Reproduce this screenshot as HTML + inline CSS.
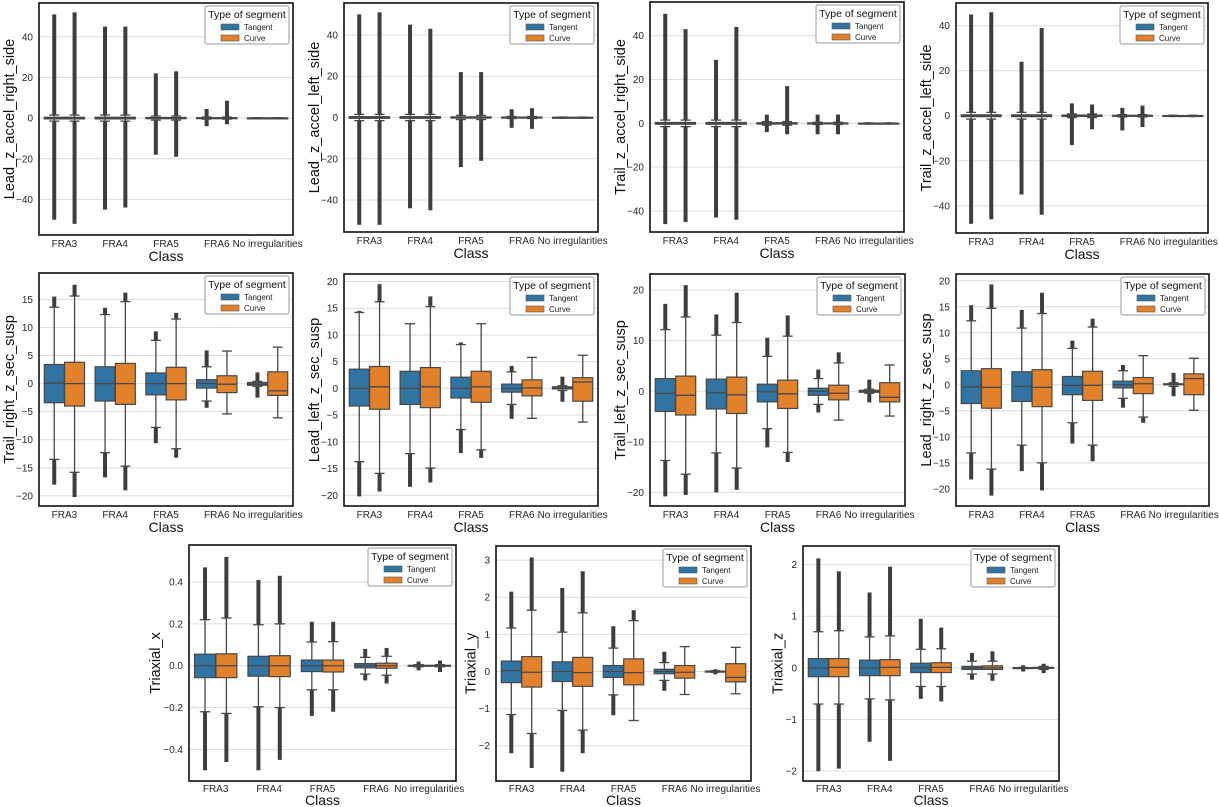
<!DOCTYPE html>
<html><head><meta charset="utf-8">
<style>
html,body{margin:0;padding:0;background:#fff;}
svg{display:block;font-family:"Liberation Sans",Arial,sans-serif;}
</style></head>
<body>
<svg id="fig" width="1219" height="807" viewBox="0 0 1219 807" xmlns="http://www.w3.org/2000/svg"></svg>
<script>
const classes = ["FRA3","FRA4","FRA5","FRA6","No irregularities"];
const hues = ["Tangent","Curve"];
// each entry: [whiskerLow, q1, median, q3, whiskerHigh, flierMin, flierMax]
const p1Tangent = [[-1.5,-0.4,0,0.4,1.5,-50,51],[-1.5,-0.4,0,0.4,1.5,-45,45],[-1,-0.3,0,0.3,1,-18,22],[-0.5,-0.2,0,0.2,0.5,-4,4.5],[-0.2,-0.1,0,0.1,0.2,-0.6,0.5]];
const p1Curve   = [[-1.5,-0.4,0,0.4,1.5,-52,52],[-1.5,-0.4,0,0.4,1.5,-44,45],[-1,-0.3,0,0.3,1,-19,23],[-0.5,-0.2,0,0.2,0.5,-3,8.5],[-0.2,-0.1,0,0.1,0.2,-0.6,0.5]];
const p2Tangent = [[-1.5,-0.4,0,0.4,1.5,-52,50],[-1.5,-0.4,0,0.4,1.5,-44,45],[-1,-0.3,0,0.3,1,-24,22],[-0.5,-0.2,0,0.2,0.5,-5,4],[-0.2,-0.1,0,0.1,0.2,-0.6,0.5]];
const p2Curve   = [[-1.5,-0.4,0,0.4,1.5,-52,51],[-1.5,-0.4,0,0.4,1.5,-45,43],[-1,-0.3,0,0.3,1,-21,22],[-0.5,-0.2,0,0.2,0.5,-5.5,4.5],[-0.2,-0.1,0,0.1,0.2,-0.6,0.5]];
const p3Tangent = [[-1.5,-0.4,0,0.4,1.5,-46,50],[-1.5,-0.4,0,0.4,1.5,-43,29],[-0.8,-0.3,0,0.3,0.8,-4,4],[-0.5,-0.2,0,0.2,0.5,-5,4],[-0.2,-0.1,0,0.1,0.2,-0.6,0.5]];
const p3Curve   = [[-1.5,-0.4,0,0.4,1.5,-45,43],[-1.5,-0.4,0,0.4,1.5,-44,44],[-0.8,-0.3,0,0.3,0.8,-5,17],[-0.5,-0.2,0,0.2,0.5,-5,4],[-0.2,-0.1,0,0.1,0.2,-0.6,0.5]];
const p4Tangent = [[-1.5,-0.4,0,0.4,1.5,-48,45],[-1.5,-0.4,0,0.4,1.5,-35,24],[-0.8,-0.3,0,0.3,0.8,-13,5.5],[-0.5,-0.2,0,0.2,0.5,-6.5,3.5],[-0.2,-0.1,0,0.1,0.2,-0.6,0.5]];
const p4Curve   = [[-1.5,-0.4,0,0.4,1.5,-46,46],[-1.5,-0.4,0,0.4,1.5,-44,39],[-0.8,-0.3,0,0.3,0.8,-6,5],[-0.5,-0.2,0,0.2,0.5,-5,4.5],[-0.2,-0.1,0,0.1,0.2,-0.6,0.5]];
const p5Tangent = [[-13.5,-3.4,0.1,3.4,13.6,-18,15.5],[-12.3,-3.1,0,3.0,12.3,-16.7,13.5],[-7.8,-2,0,1.9,7.7,-10.6,9.3],[-3.1,-0.8,0,0.7,3.0,-4.3,5.9],[-0.5,-0.3,-0.1,0.2,0.4,-2.5,2.0]];
const p5Curve   = [[-15.8,-4,0,3.8,15.6,-20.2,17.6],[-14.7,-3.7,0,3.6,14.6,-19,16.2],[-11.6,-2.9,0,2.9,11.5,-13.2,12.6],[-5.4,-1.6,-0.1,1.4,5.8,-5.4,5.8],[-6.1,-2.1,-1.3,2.1,6.5,-6.1,6.5]];
const p6Tangent = [[-13.7,-3.3,0,3.6,14.2,-20.2,14.5],[-12.2,-3.0,0,3.2,12.1,-18.4,12.1],[-7.7,-1.8,0,2.1,8.2,-12.1,8.6],[-3.0,-0.7,0,0.8,3.1,-5.7,4.2],[-0.4,-0.1,0.1,0.3,0.5,-2.5,2.2]];
const p6Curve   = [[-15.9,-3.9,0.3,4.1,16.2,-19.3,19.5],[-14.9,-3.6,0.3,3.9,15.3,-17.6,17.2],[-11.5,-2.6,0.3,3.2,12.1,-13.0,12.1],[-5.6,-1.4,0.1,1.6,5.8,-5.6,5.8],[-6.3,-2.4,1.2,2.0,6.2,-6.3,6.2]];
const p7Tangent = [[-13.7,-4.0,-0.4,2.5,12.2,-20.8,17.3],[-12.2,-3.5,-0.3,2.4,11.1,-20,15.2],[-7.4,-2.1,-0.1,1.4,6.9,-11.1,10.6],[-2.6,-0.8,0,0.6,2.5,-4.2,4.3],[-0.4,-0.2,0,0.2,0.4,-2.2,2.3]];
const p7Curve   = [[-16.4,-4.7,-0.8,3.0,14.7,-20.5,21],[-15.2,-4.4,-0.7,2.8,13.6,-19.5,19.5],[-12.1,-3.4,-0.5,2.2,10.9,-14,15],[-5.7,-1.7,-0.4,1.2,5.6,-5.7,7.7],[-4.9,-2.1,-1.2,1.7,5.2,-4.9,5.2]];
const p8Tangent = [[-13.1,-3.6,-0.4,2.7,12.3,-18.2,15.3],[-11.6,-3.2,-0.3,2.5,10.9,-16.6,14.4],[-7.3,-1.9,-0.1,1.6,7.0,-11.3,8.5],[-2.6,-0.6,0,0.7,2.7,-4.4,3.8],[-0.3,0,0.1,0.2,0.4,-2.2,2.3]];
const p8Curve   = [[-16.2,-4.5,-0.5,3.1,14.7,-21.3,19.3],[-15,-4.2,-0.5,2.9,13.7,-20.3,17.7],[-11.6,-3.0,-0.1,2.6,11.1,-14.7,12.7],[-6.2,-1.7,0.2,1.4,5.6,-7.3,5.6],[-4.9,-1.9,1.2,2.1,5.1,-4.9,5.1]];
const p9Tangent = [[-0.22,-0.057,0,0.055,0.22,-0.50,0.47],[-0.196,-0.05,0,0.045,0.196,-0.50,0.41],[-0.115,-0.028,0,0.027,0.113,-0.24,0.21],[-0.04,-0.01,0,0.01,0.04,-0.07,0.08],[-0.005,-0.002,0,0.002,0.005,-0.022,0.02]];
const p9Curve   = [[-0.228,-0.057,0,0.057,0.228,-0.46,0.52],[-0.2,-0.052,0,0.048,0.2,-0.45,0.43],[-0.115,-0.03,0,0.027,0.115,-0.22,0.21],[-0.045,-0.012,0,0.012,0.045,-0.085,0.085],[-0.005,-0.002,0,0.002,0.005,-0.03,0.025]];
const p10Tangent = [[-1.16,-0.3,0.02,0.28,1.17,-2.2,2.15],[-1.05,-0.27,0,0.26,1.06,-2.7,2.25],[-0.63,-0.16,0,0.16,0.63,-1.18,1.22],[-0.24,-0.06,0,0.06,0.24,-0.52,0.53],[-0.02,-0.01,0,0.01,0.02,-0.08,0.06]];
const p10Curve   = [[-1.67,-0.42,-0.02,0.4,1.65,-2.6,3.07],[-1.58,-0.4,-0.03,0.38,1.58,-2.2,2.7],[-1.32,-0.36,-0.03,0.34,1.37,-1.32,1.65],[-0.62,-0.18,-0.02,0.16,0.67,-0.62,0.67],[-0.6,-0.28,-0.16,0.21,0.65,-0.6,0.65]];
const p11Tangent = [[-0.7,-0.17,0,0.18,0.7,-2.0,2.12],[-0.6,-0.15,0,0.15,0.6,-1.43,1.46],[-0.36,-0.09,0,0.09,0.36,-0.6,0.95],[-0.12,-0.03,0,0.03,0.13,-0.23,0.29],[-0.01,-0.005,0,0.005,0.01,-0.07,0.05]];
const p11Curve   = [[-0.7,-0.17,0.01,0.18,0.72,-1.95,1.87],[-0.62,-0.15,0.01,0.16,0.62,-1.8,1.96],[-0.36,-0.09,0.01,0.1,0.37,-0.65,0.78],[-0.12,-0.03,0,0.04,0.13,-0.25,0.32],[-0.03,-0.01,0,0.01,0.03,-0.1,0.08]];
const ticksAccel = [-40,-20,0,20,40];
const ticks5 = [-20,-15,-10,-5,0,5,10,15];
const ticks6 = [-20,-15,-10,-5,0,5,10,15,20];
const ticks7 = [-20,-10,0,10,20];
const ticks9 = [-0.4,-0.2,0,0.2,0.4];
const ticks9Labels = ["\u22120.4","\u22120.2","0.0","0.2","0.4"];
const ticks10 = [-2,-1,0,1,2,3];
const ticks11 = [-2,-1,0,1,2];

const panels = [
 {name:"Lead_z_accel_right_side", box:[39,3,293,235], y:[-57.5,56.6], ticks:ticksAccel, T:p1Tangent, C:p1Curve, row:1},
 {name:"Lead_z_accel_left_side", box:[344,3,598,232], y:[-55.5,55.5], ticks:ticksAccel, T:p2Tangent, C:p2Curve, row:1},
 {name:"Trail_z_accel_right_side", box:[650,2,904,232], y:[-49.6,55.4], ticks:ticksAccel, T:p3Tangent, C:p3Curve, row:1},
 {name:"Trail_z_accel_left_side", box:[956,3,1208,233], y:[-52.1,50.1], ticks:ticksAccel, T:p4Tangent, C:p4Curve, row:1},
 {name:"Trail_right_z_sec_susp", box:[39,273,293,506], y:[-21.8,19.7], ticks:ticks5, T:p5Tangent, C:p5Curve, row:2},
 {name:"Lead_left_z_sec_susp", box:[344,274,598,506], y:[-22.0,21.4], ticks:ticks6, T:p6Tangent, C:p6Curve, row:2},
 {name:"Trail_left_z_sec_susp", box:[650,274,905,506], y:[-22.7,23.2], ticks:ticks7, T:p7Tangent, C:p7Curve, row:2},
 {name:"Lead_right_z_sec_susp", box:[956,274,1209,506], y:[-23.3,21.3], ticks:ticks6, T:p8Tangent, C:p8Curve, row:2},
 {name:"Triaxial_x", box:[189,545,456,781], y:[-0.551,0.577], ticks:ticks9, labels:ticks9Labels, T:p9Tangent, C:p9Curve, row:3},
 {name:"Triaxial_y", box:[496,546,751,781], y:[-2.95,3.38], ticks:ticks10, T:p10Tangent, C:p10Curve, row:3},
 {name:"Triaxial_z", box:[803,546,1059,781], y:[-2.19,2.36], ticks:ticks11, T:p11Tangent, C:p11Curve, row:3}
];
const colors = ["#3274a1","#e1812c"];
const NS = "http://www.w3.org/2000/svg";
const fig = document.getElementById("fig");
function mk(tag, attrs, parent, text){
  const e = document.createElementNS(NS, tag);
  for (const k in attrs) e.setAttribute(k, attrs[k]);
  if (text !== undefined) e.textContent = text;
  parent.appendChild(e);
  return e;
}
function fmt(v){ return v < 0 ? "\u2212" + Math.abs(v) : String(v); }

panels.forEach((p, pi) => {
  const [L,T,R,B] = p.box;
  const g = mk("g", {}, fig);
  
  
  const yS = v => B - (v - p.y[0]) / (p.y[1] - p.y[0]) * (B - T);
  const slot = (R - L) / 5;
  const xS = (ci, hi) => L + slot * (ci + 0.5) + (hi === 0 ? -0.2 : 0.2) * slot;
  p.ticks.forEach((t, ti) => {
    const y = yS(t);
    const gl = mk("line", {x1:L, x2:R, y1:y, y2:y, stroke:"#dcdcdc", "stroke-width":1}, g);
    
    
    const tl = mk("text", {x:L-6, y:y+3.5, "text-anchor":"end", "font-size":10, fill:"#262626"}, g, p.labels ? p.labels[ti] : fmt(t));
    
    
  });
  [p.T, p.C].forEach((series, hi) => {
    series.forEach((d, ci) => {
      const [wlo,q1,med,q3,whi,fmin,fmax] = d;
      const cx = xS(ci, hi);
      const bw = slot * 0.4 * 0.98;
      const bg = mk("g", {}, g);
      
      
      if (fmax > whi) {
        const f = mk("rect", {x:cx-2, y:yS(fmax), width:4, height:Math.max(1, yS(whi)-yS(fmax)), fill:"#3d3d3d"}, bg);
        
        
      }
      if (fmin < wlo) {
        const f = mk("rect", {x:cx-2, y:yS(wlo), width:4, height:Math.max(1, yS(fmin)-yS(wlo)), fill:"#3d3d3d"}, bg);
        
        
      }
      mk("line", {x1:cx, x2:cx, y1:yS(whi), y2:yS(q3), stroke:"#474747", "stroke-width":1.3}, bg);
      mk("line", {x1:cx, x2:cx, y1:yS(q1), y2:yS(wlo), stroke:"#474747", "stroke-width":1.3}, bg);
      mk("line", {x1:cx-bw/4, x2:cx+bw/4, y1:yS(whi), y2:yS(whi), stroke:"#474747", "stroke-width":1.3}, bg);
      mk("line", {x1:cx-bw/4, x2:cx+bw/4, y1:yS(wlo), y2:yS(wlo), stroke:"#474747", "stroke-width":1.3}, bg);
      const h = Math.max(1, yS(q1) - yS(q3));
      mk("rect", {x:cx-bw/2, y:yS(q3), width:bw, height:h, fill:colors[hi], stroke:"#474747", "stroke-width":1.2}, bg);
      mk("line", {x1:cx-bw/2, x2:cx+bw/2, y1:yS(med), y2:yS(med), stroke:"#474747", "stroke-width":1.3}, bg);
    });
  });
  const fr = mk("rect", {x:L, y:T, width:R-L, height:B-T, fill:"none", stroke:"#111", "stroke-width":1.6}, g);
  
  
  const tickOff = p.row === 3 ? 11 : 12;
  const classOff = p.row === 3 ? 24 : 26;
  classes.forEach((c, ci) => {
    const xt = mk("text", {x:L + slot*(ci+0.5), y:B+tickOff, "text-anchor":"middle", "font-size":10, fill:"#262626"}, g, c);
    
    
  });
  const xl = mk("text", {x:(L+R)/2, y:B+classOff, "text-anchor":"middle", "font-size":14, fill:"#111"}, g, "Class");
  
  
  let maxLen = 0;
  p.ticks.forEach((t, ti) => { const s = p.labels ? p.labels[ti] : fmt(t); maxLen = Math.max(maxLen, s.length); });
  const ylx = L - 16 - maxLen * 4.3;
  const yl = mk("text", {x:ylx, y:(T+B)/2, "text-anchor":"middle", "dominant-baseline":"central", "font-size":14.5, fill:"#111", transform:`rotate(-90 ${ylx} ${(T+B)/2})`}, g, p.name);
  
  
  const lw = 84, lh = 38, lx = R - lw - 4, ly = T + 3;
  const lg = mk("g", {}, g);
  
  
  mk("rect", {x:lx, y:ly, width:lw, height:lh, rx:2, fill:"#fff", stroke:"#999", "stroke-width":1}, lg);
  const lt = mk("text", {x:lx+lw/2, y:ly+12, "text-anchor":"middle", "font-size":10.5, fill:"#111"}, lg, "Type of segment");
  
  
  hues.forEach((hn, hi) => {
    const ey = ly + 18 + hi * 11;
    const le = mk("g", {}, lg);
    
    
    mk("rect", {x:lx+16, y:ey, width:18, height:6, fill:colors[hi], stroke:"#555", "stroke-width":0.6}, le);
    mk("text", {x:lx+39, y:ey+6, "font-size":8, fill:"#222"}, le, hn);
  });
});
</script>
</body></html>
